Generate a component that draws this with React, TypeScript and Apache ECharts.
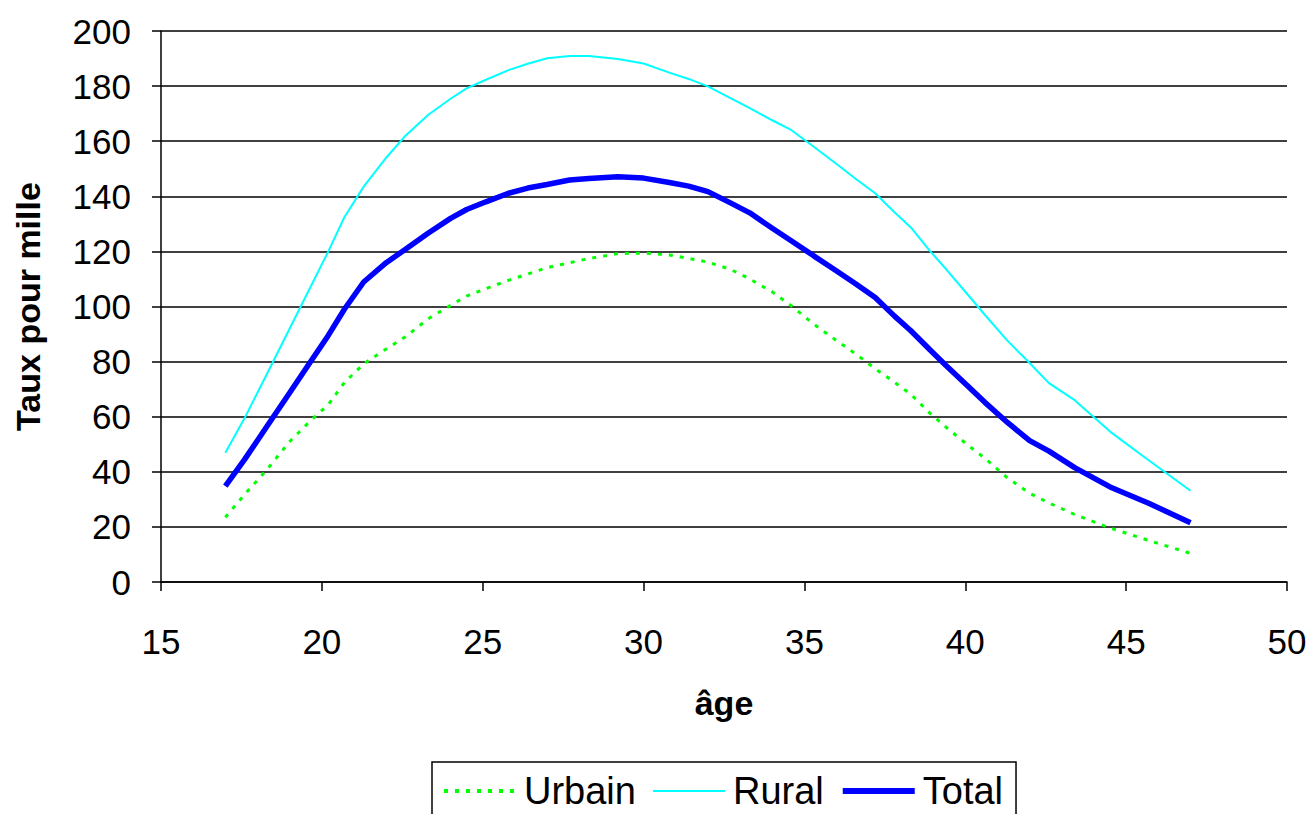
import React, { useEffect, useRef } from "react";
import * as echarts from "echarts";

const ages = [17.0, 17.6, 18.3, 19.0, 19.6, 20.2, 20.7, 21.3, 22.0, 22.6, 23.3, 24.0, 24.5, 25.1, 25.8, 26.4, 27.0, 27.7, 28.3, 29.2, 30.0, 30.8, 31.4, 32.0, 32.7, 33.3, 34.0, 34.6, 35.3, 36.0, 36.6, 37.2, 37.8, 38.3, 38.9, 39.4, 40.1, 40.6, 41.3, 42.0, 42.6, 43.4, 44.5, 45.7, 47.0];

const urbain = [23.5, 31.8, 40.9, 51.0, 58.0, 64.4, 72.4, 79.2, 84.6, 89.0, 95.5, 100.4, 103.8, 106.5, 109.5, 111.8, 114.1, 115.9, 117.4, 119.2, 119.4, 118.7, 117.5, 116.1, 113.5, 110.0, 105.3, 100.2, 93.5, 87.6, 82.7, 77.4, 72.5, 68.2, 61.3, 56.2, 49.5, 45.0, 37.9, 32.2, 28.7, 24.5, 19.6, 15.1, 10.4];

const rural = [46.9, 59.5, 75.7, 92.0, 106.0, 120.0, 132.4, 143.5, 154.0, 162.0, 169.5, 175.4, 179.2, 182.3, 185.8, 188.1, 190.1, 190.9, 190.9, 189.8, 188.2, 184.9, 182.6, 179.9, 175.6, 172.0, 167.6, 164.0, 157.9, 151.7, 146.3, 141.1, 134.2, 128.8, 120.2, 113.6, 104.0, 97.1, 87.7, 79.5, 72.2, 66.0, 54.6, 44.2, 33.1];

const total = [34.8, 44.5, 56.6, 68.7, 79.1, 89.5, 99.0, 108.9, 115.9, 120.8, 126.6, 132.0, 135.2, 138.0, 141.1, 143.0, 144.3, 145.9, 146.5, 147.1, 146.6, 145.0, 143.7, 141.7, 137.6, 134.0, 128.4, 123.8, 118.3, 112.9, 108.2, 103.3, 96.5, 91.3, 84.3, 78.6, 70.9, 65.3, 58.0, 51.3, 47.5, 41.5, 34.5, 28.6, 21.5];

const seriesNames = ["Urbain", "Rural", "Total"];
const xAxisName = "âge";
const yAxisName = "Taux pour mille";

const FONT = "'Liberation Sans', Arial, sans-serif";

const lineStyles = [
  { color: "#00ff00", width: 3, type: [4, 7] },
  { color: "#00ffff", width: 2, type: "solid" },
  { color: "#0000ff", width: 5.5, type: "solid" },
];

export default function App() {
  const ref = useRef<HTMLDivElement>(null);

  useEffect(() => {
    if (!ref.current) return;
    const chart = echarts.init(ref.current, undefined, { renderer: "svg" });
    const pairs = (vals: number[]) => ages.map((a, i) => [a, vals[i]]);
    const seriesData = [urbain, rural, total];
    chart.setOption({
      animation: false,
      backgroundColor: "#ffffff",
      textStyle: { fontFamily: FONT },
      grid: { left: 161, right: 27, top: 31, bottom: 232, containLabel: false },
      legend: {
        data: seriesNames.map((n, i) => ({
          name: n,
          itemStyle: { opacity: 0 },
          lineStyle: { ...lineStyles[i], width: i === 2 ? 6 : i === 0 ? 4 : 2 },
        })),
        left: 432,
        top: 762,
        orient: "horizontal",
        padding: [10, 13, 20, 10],
        itemGap: 16,
        itemWidth: 72,
        itemHeight: 14,
        borderColor: "#000",
        borderWidth: 1.5,
        itemStyle: { opacity: 0 },
        textStyle: { fontFamily: FONT, fontSize: 38, color: "#000", padding: [0, 0, 0, 3] },
      },
      xAxis: {
        type: "value",
        min: 15,
        max: 50,
        interval: 5,
        name: xAxisName,
        nameLocation: "middle",
        nameGap: 104,
        nameTextStyle: { fontFamily: FONT, fontSize: 34, fontWeight: "bold", color: "#000" },
        axisLine: { show: true, onZero: false, lineStyle: { color: "#000", width: 1.5 } },
        axisTick: { show: true, length: 9, lineStyle: { color: "#000", width: 1.5 } },
        axisLabel: { fontFamily: FONT, fontSize: 35, color: "#000", margin: 42 },
        splitLine: { show: false },
      },
      yAxis: {
        type: "value",
        min: 0,
        max: 200,
        interval: 20,
        name: yAxisName,
        nameLocation: "middle",
        nameGap: 116,
        nameTextStyle: { fontFamily: FONT, fontSize: 34, fontWeight: "bold", color: "#000" },
        axisLine: { show: true, lineStyle: { color: "#000", width: 1.5 } },
        axisTick: { show: true, length: 9, lineStyle: { color: "#000", width: 1.5 } },
        axisLabel: { fontFamily: FONT, fontSize: 35, color: "#000", margin: 30 },
        splitLine: { show: true, lineStyle: { color: "#000", width: 1.5 } },
      },
      series: seriesNames.map((n, i) => ({
        name: n,
        type: "line",
        data: pairs(seriesData[i]),
        showSymbol: false,
        symbol: "none",
        color: lineStyles[i].color,
        lineStyle: lineStyles[i],
      })),
    });
    return () => chart.dispose();
  }, []);

  return (
    <div
      ref={ref}
      style={{ position: "fixed", left: 0, top: 0, width: 1314, height: 814, background: "#fff" }}
    />
  );
}
